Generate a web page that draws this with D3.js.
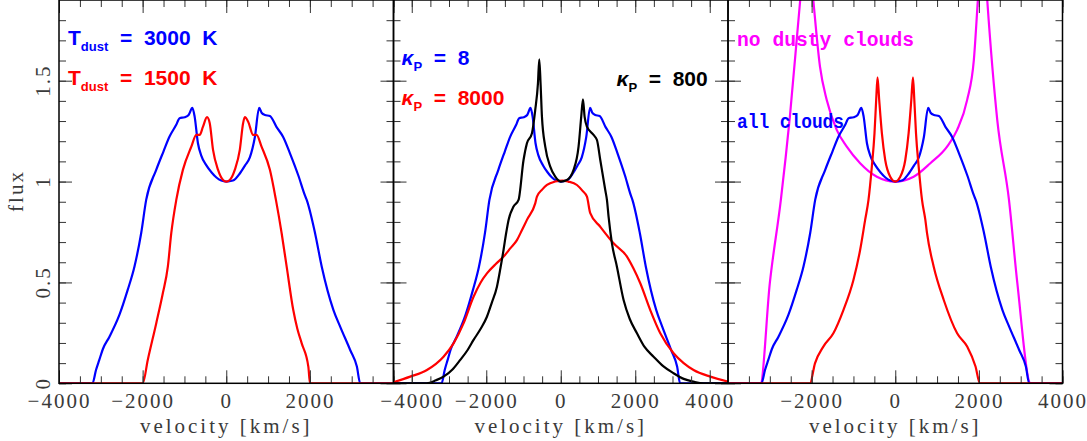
<!DOCTYPE html>
<html>
<head>
<meta charset="utf-8">
<script src="https://cdn.jsdelivr.net/npm/d3@7"></script>
<style>
  body { margin: 0; background: #fff; }
  svg { display: block; }
  .tick line { stroke: #333; stroke-width: 1; }
  .ticklab { font-family: "Liberation Serif", serif; font-size: 21px; fill: #3a3a3a; letter-spacing: 2px; }
</style>
</head>
<body>
<div id="view"></div>
<script>
// line profiles, [velocity km/s, flux]
var tdust3000 = [
  [-4500,0],[-3200,0],[-3115,0.066],[-3036,0.116],[-2950,0.17],[-2796,0.23],[-2556,0.339],[-2357,0.463],
  [-2196,0.578],[-2035,0.744],[-1915,0.909],[-1675,1.058],[-1500,1.15],[-1356,1.223],[-1200,1.28],
  [-1116,1.314],[-996,1.319],[-900,1.33],[-811,1.365],[-756,1.322],[-677,1.19],[-600,1.13],[-475,1.08],
  [-350,1.045],[-235,1.02],[-120,1.005],[0,1.0],[160,1.005],[324,1.04],[450,1.08],[564,1.12],[684,1.22],
  [787,1.365],[850,1.34],[924,1.33],[1044,1.325],[1204,1.27],[1364,1.22],[1524,1.14],[1724,1.03],
  [1884,0.93],[1924,0.909],[2124,0.744],[2284,0.578],[2564,0.363],[2724,0.281],[2964,0.165],
  [3124,0.083],[3204,0],[4500,0]
];
var tdust1500 = [
  [-4500,0],[-1997,0],[-1877,0.116],[-1675,0.297],[-1517,0.446],[-1397,0.578],[-1315,0.744],
  [-1195,0.909],[-1037,1.058],[-835,1.173],[-715,1.231],[-636,1.231],[-556,1.272],[-460,1.319],
  [-396,1.29],[-316,1.157],[-196,1.058],[-76,1.008],[0,1.0],[84,1.008],[204,1.058],[324,1.157],
  [404,1.29],[444,1.319],[524,1.297],[644,1.231],[724,1.231],[844,1.173],[1044,1.058],[1188,0.909],
  [1325,0.744],[1445,0.578],[1603,0.363],[1700,0.27],[1805,0.198],[1963,0.083],[2004,0],[4500,0]
];
var kappa800 = [
  [-4500,0],[-3600,0],[-3350,0.015],[-3147,0.033],[-2900,0.07],[-2698,0.116],[-2500,0.165],
  [-2341,0.215],[-2150,0.27],[-1982,0.33],[-1850,0.4],[-1713,0.479],[-1620,0.57],[-1536,0.661],
  [-1470,0.74],[-1401,0.81],[-1267,0.876],[-1133,0.909],[-999,1.107],[-908,1.19],[-773,1.24],
  [-685,1.355],[-612,1.487],[-577,1.606],[-542,1.487],[-505,1.322],[-416,1.173],[-282,1.074],
  [-148,1.024],[0,1.0],[166,1.008],[344,1.058],[478,1.173],[550,1.322],[596,1.408],[640,1.322],
  [703,1.272],[881,1.231],[972,1.206],[1061,1.107],[1195,0.958],[1240,0.909],[1284,0.826],
  [1374,0.694],[1508,0.578],[1687,0.413],[1850,0.32],[2046,0.248],[2250,0.18],[2492,0.132],
  [2750,0.085],[3029,0.05],[3300,0.022],[3566,0.008],[3834,0],[4500,0]
];
var kappa8000 = [
  [-4500,0.005],[-4041,0.033],[-3593,0.066],[-3147,0.132],[-2878,0.198],[-2610,0.297],[-2341,0.429],
  [-2150,0.5],[-1982,0.545],[-1750,0.59],[-1535,0.628],[-1350,0.67],[-1176,0.71],[-1040,0.76],
  [-908,0.81],[-685,0.892],[-639,0.925],[-500,0.96],[-370,0.983],[-150,1.0],[50,1.005],[200,1.0],
  [435,0.983],[580,0.955],[703,0.925],[792,0.843],[1061,0.776],[1418,0.694],[1777,0.628],[1950,0.57],
  [2135,0.496],[2403,0.363],[2672,0.248],[3029,0.149],[3300,0.1],[3566,0.066],[4014,0.033],[4500,0.008]
];
var no_dusty = [
  [-4500,0],[-3224,0],[-3000,0.496],[-2736,0.909],[-2520,1.322],[-2280,1.884],[-2110,2.25],
  [-1960,1.9],[-1800,1.57],[-1640,1.405],[-1400,1.256],[-1160,1.173],[-840,1.091],[-440,1.024],
  [0,1.0],[440,1.024],[840,1.091],[1240,1.173],[1480,1.256],[1720,1.405],[1880,1.603],[1976,1.9],
  [2090,2.25],[2200,1.9],[2440,1.305],[2720,0.909],[2920,0.496],[3240,0],[4500,0]
];
var dusty_only = [
  [-4500,0],[-2040,0],[-1920,0.099],[-1720,0.182],[-1480,0.248],[-1240,0.363],[-1000,0.512],
  [-840,0.661],[-720,0.81],[-640,0.909],[-560,1.074],[-496,1.24],[-456,1.405],[-424,1.517],
  [-384,1.405],[-320,1.24],[-240,1.107],[-120,1.024],[0,1.0],[120,1.024],[240,1.107],[320,1.24],
  [384,1.405],[424,1.517],[456,1.405],[496,1.24],[560,1.074],[640,0.909],[720,0.81],[760,0.744],
  [920,0.578],[1160,0.413],[1480,0.248],[1720,0.182],[1920,0.083],[2024,0],[4500,0]
];

var x_limits = [4000, 4490, 4000];
var x_labels = [[-4000,-2000,0,2000], [-4000,-2000,0,2000,4000], [-2000,0,2000,4000]];
var y_ticks = [0, 0.5, 1, 1.5];
var y_max = 1.9;

// curves drawn per panel, in order
var panel_curves = [
  [{ data: tdust3000, color: '#0000ff' }, { data: tdust1500, color: '#ff0000' }],
  [{ data: tdust3000, color: '#0000ff' }, { data: kappa8000, color: '#ff0000' }, { data: kappa800, color: '#000' }],
  [{ data: no_dusty, color: '#ff00ff' }, { data: tdust3000, color: '#0000ff' }, { data: dusty_only, color: '#ff0000' }]
];

var LEFT = 59, RIGHT = 1062.5, PH = 383.3;
var PW = (RIGHT - LEFT) / 3;

var svg = d3.select("#view").append("svg").attr("width", 1087).attr("height", 441);
var y = d3.scaleLinear().domain([0, y_max]).range([PH, 0]);
var fmt = d3.format("");

function minor_x(lim) { return d3.range(-4500, 4501, 500).filter(function(d) { return Math.abs(d) <= lim; }); }
var minor_y = d3.range(0, 19).map(function(i) { return i / 10; });

function style_ticks(sel) { sel.select(".domain").remove(); sel.selectAll("text").attr("class", "ticklab"); }

function legend(g, x0, y0, color, sym, sub, rest, italic) {
  var t = g.append("text").attr("x", x0).attr("y", y0).attr("fill", color).attr("xml:space", "preserve")
    .style("white-space", "pre").style("font", "bold 21px 'Liberation Sans', sans-serif");
  t.append("tspan").style("font-style", italic ? "italic" : null).text(sym);
  t.append("tspan").attr("dy", 6).style("font-size", "13px").text(sub);
  t.append("tspan").attr("dy", -6).text(rest);
}

function draw_panel(i) {
  var lim = x_limits[i];
  var x = d3.scaleLinear().domain([-lim, lim]).range([0, PW]);
  var g = svg.append("g").attr("transform", "translate(" + (LEFT + i * PW) + ",0)");

  g.append("clipPath").attr("id", "clip" + i).append("rect").attr("width", PW).attr("height", PH);

  var line = d3.line().x(function(d) { return x(d[0]); }).y(function(d) { return y(d[1]); }).curve(d3.curveMonotoneX);
  g.append("g").attr("clip-path", "url(#clip" + i + ")").selectAll("path").data(panel_curves[i]).enter()
    .append("path").attr("d", function(c) { return line(c.data); })
    .attr("fill", "none").attr("stroke", function(c) { return c.color; }).attr("stroke-width", 2.2)
    .attr("stroke-linejoin", "round");

  // ticks, all pointing inward
  var major_x = d3.range(-4000, 4001, 2000);
  g.append("g").attr("transform", "translate(0," + PH + ")")
    .call(d3.axisBottom(x).tickValues(minor_x(lim)).tickSize(-7).tickSizeOuter(0).tickFormat("")).call(style_ticks);
  g.append("g").attr("transform", "translate(0," + PH + ")")
    .call(d3.axisBottom(x).tickValues(major_x).tickSize(-13).tickSizeOuter(0).tickPadding(10)
      .tickFormat(function(d) { return x_labels[i].indexOf(d) >= 0 ? fmt(d) : ""; })).call(style_ticks);
  g.append("g").call(d3.axisTop(x).tickValues(minor_x(lim)).tickSize(-7).tickSizeOuter(0).tickFormat("")).call(style_ticks);
  g.append("g").call(d3.axisTop(x).tickValues(major_x).tickSize(-13).tickSizeOuter(0).tickFormat("")).call(style_ticks);
  g.append("g").call(d3.axisLeft(y).tickValues(minor_y).tickSize(-7).tickSizeOuter(0).tickFormat("")).call(style_ticks);
  g.append("g").call(d3.axisLeft(y).tickValues(y_ticks).tickSize(-13).tickSizeOuter(0).tickFormat("")).call(style_ticks);
  g.append("g").attr("transform", "translate(" + PW + ",0)")
    .call(d3.axisRight(y).tickValues(minor_y).tickSize(-7).tickSizeOuter(0).tickFormat("")).call(style_ticks);
  g.append("g").attr("transform", "translate(" + PW + ",0)")
    .call(d3.axisRight(y).tickValues(y_ticks).tickSize(-13).tickSizeOuter(0).tickFormat("")).call(style_ticks);

  g.append("rect").attr("width", PW).attr("height", PH).attr("fill", "none").attr("stroke", "#000").attr("stroke-width", 1.5);

  g.append("text").attr("class", "ticklab").attr("x", PW / 2).attr("y", 433).attr("text-anchor", "middle")
    .style("letter-spacing", "3px").text("velocity [km/s]");
  return g;
}

var panels = [0, 1, 2].map(draw_panel);

// y labels on the first panel only
svg.selectAll("text.ylab").data(y_ticks).enter().append("text").attr("class", "ticklab")
  .attr("transform", function(d) { return "translate(50," + y(d) + ") rotate(-90)"; })
  .attr("text-anchor", "middle").text(function(d) { return fmt(d); });
svg.append("text").attr("class", "ticklab").attr("transform", "translate(23,191) rotate(-90)")
  .attr("text-anchor", "middle").text("flux");

legend(panels[0], 9, 45, "#0000ff", "T", "dust", "  =  3000  K", false);
legend(panels[0], 9, 85, "#ff0000", "T", "dust", "  =  1500  K", false);
legend(panels[1], 8, 65, "#0000ff", "\u03ba", "P", "  =  8", true);
legend(panels[1], 8, 105, "#ff0000", "\u03ba", "P", "  =  8000", true);
legend(panels[1], 223, 86, "#000", "\u03ba", "P", "  =  800", true);

panels[2].append("text").attr("x", 9).attr("y", 46).attr("fill", "#ff00ff")
  .attr("textLength", 177).attr("lengthAdjust", "spacingAndGlyphs")
  .style("font", "bold 20px 'Liberation Mono', monospace").text("no dusty clouds");
panels[2].append("text").attr("x", 9).attr("y", 128).attr("fill", "#0000ff")
  .attr("textLength", 107).attr("lengthAdjust", "spacingAndGlyphs")
  .style("font", "bold 20px 'Liberation Mono', monospace").text("all clouds");
</script>
</body>
</html>
